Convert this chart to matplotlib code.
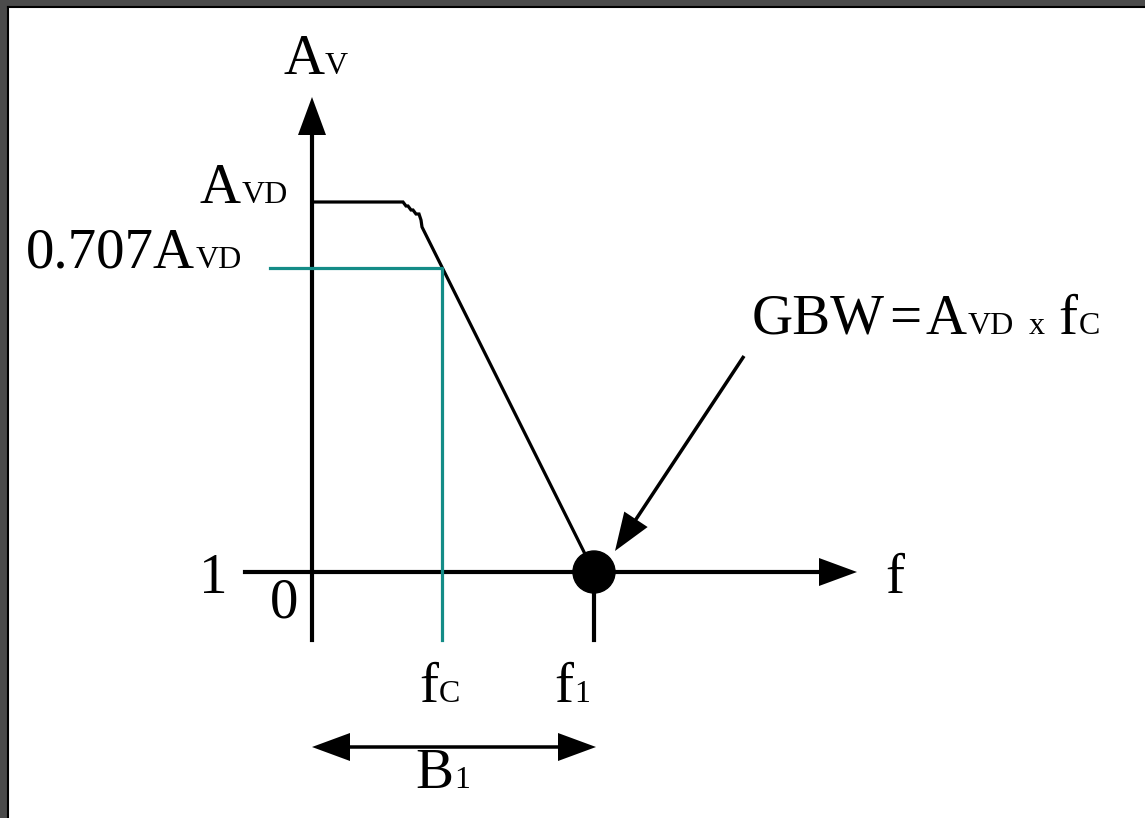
import matplotlib
matplotlib.use("Agg")
import matplotlib.pyplot as plt
from matplotlib.patches import Circle, Rectangle

# diagram drawn in pixel units (x right, y down)
curve_x = [312, 403, 406, 408, 411, 413, 416, 419, 421, 422, 594]
curve_y = [202, 202, 206, 206, 210, 210, 214, 214, 220, 227, 572]

cutoff_x = [270, 442, 442]          # 0.707 AVD level -> fC
cutoff_y = [268, 268, 640]

unity_point = (594, 572)            # GBW point on the f axis

BIG = 41
SMALL = 23
FONT = ["Liberation Serif", "DejaVu Serif"]
TEAL = "#148c87"

fig = plt.figure(figsize=(11.45, 8.18), dpi=100)
ax = fig.add_axes([0, 0, 1, 1])
ax.set_xlim(0, 1145)
ax.set_ylim(818, 0)
ax.axis("off")

# window frame
ax.add_patch(Rectangle((0, 0), 7, 818, color="#4b4b4b", lw=0))
ax.add_patch(Rectangle((0, 0), 1145, 6, color="#4b4b4b", lw=0))
ax.plot([8, 8], [7, 818], color="k", lw=1.5)
ax.plot([8, 1145], [7, 7], color="k", lw=1.5)

def arrow(x0, y0, x1, y1):
    ax.arrow(x0, y0, x1 - x0, y1 - y0, width=3.5, head_width=28, head_length=38,
             length_includes_head=True, color="k", lw=0)

# axes
ax.plot([312, 312], [640, 120], color="k", lw=3)
arrow(312, 400, 312, 97)
ax.plot([245, 830], [572, 572], color="k", lw=3)
arrow(600, 572, 857, 572)
ax.plot([594, 594], [572, 640], color="k", lw=3)

# response curve and cutoff
ax.plot(curve_x, curve_y, color="k", lw=2.3, solid_joinstyle="miter")
ax.plot(cutoff_x, cutoff_y, color=TEAL, lw=2.3)
ax.add_patch(Circle(unity_point, 21, color="k"))

# GBW pointer
arrow(744, 356, 615, 551)

# bandwidth arrow
arrow(454, 747, 312, 747)
arrow(454, 747, 596, 747)

def rich(x, y, parts, ha="left"):
    r = fig.canvas.get_renderer()
    items = []
    for p in parts:
        if isinstance(p, (int, float)):
            items.append((None, p))
            continue
        s, size = p
        t = ax.text(0, y, s, fontsize=size, va="baseline", ha="left", family=FONT)
        items.append((t, t.get_window_extent(r).width))
    total = sum(w for _, w in items)
    if ha == "center":
        x -= total / 2
    elif ha == "right":
        x -= total
    for t, w in items:
        if t is not None:
            t.set_x(x)
        x += w + (1 if t is not None else 0)

rich(283, 74, [("A", BIG), ("V", SMALL)])
rich(287, 203, [("A", BIG), ("VD", SMALL)], ha="right")
rich(241, 268, [("0.707A", BIG), ("VD", SMALL)], ha="right")
rich(227, 593, [("1", BIG)], ha="right")
rich(270, 617, [("0", BIG)])
rich(439, 702, [("f", BIG), ("C", SMALL)], ha="center")
rich(572, 702, [("f", BIG), ("1", SMALL)], ha="center")
rich(442, 788, [("B", BIG), ("1", SMALL)], ha="center")
rich(885, 593, [("f", BIG)])
rich(923, 334, [("GBW", BIG), 3, ("=", BIG), 3, ("A", BIG), ("VD", SMALL), 14,
                ("x", SMALL), 13, ("f", BIG), ("C", SMALL)], ha="center")

fig.savefig("out.png", dpi=100)
